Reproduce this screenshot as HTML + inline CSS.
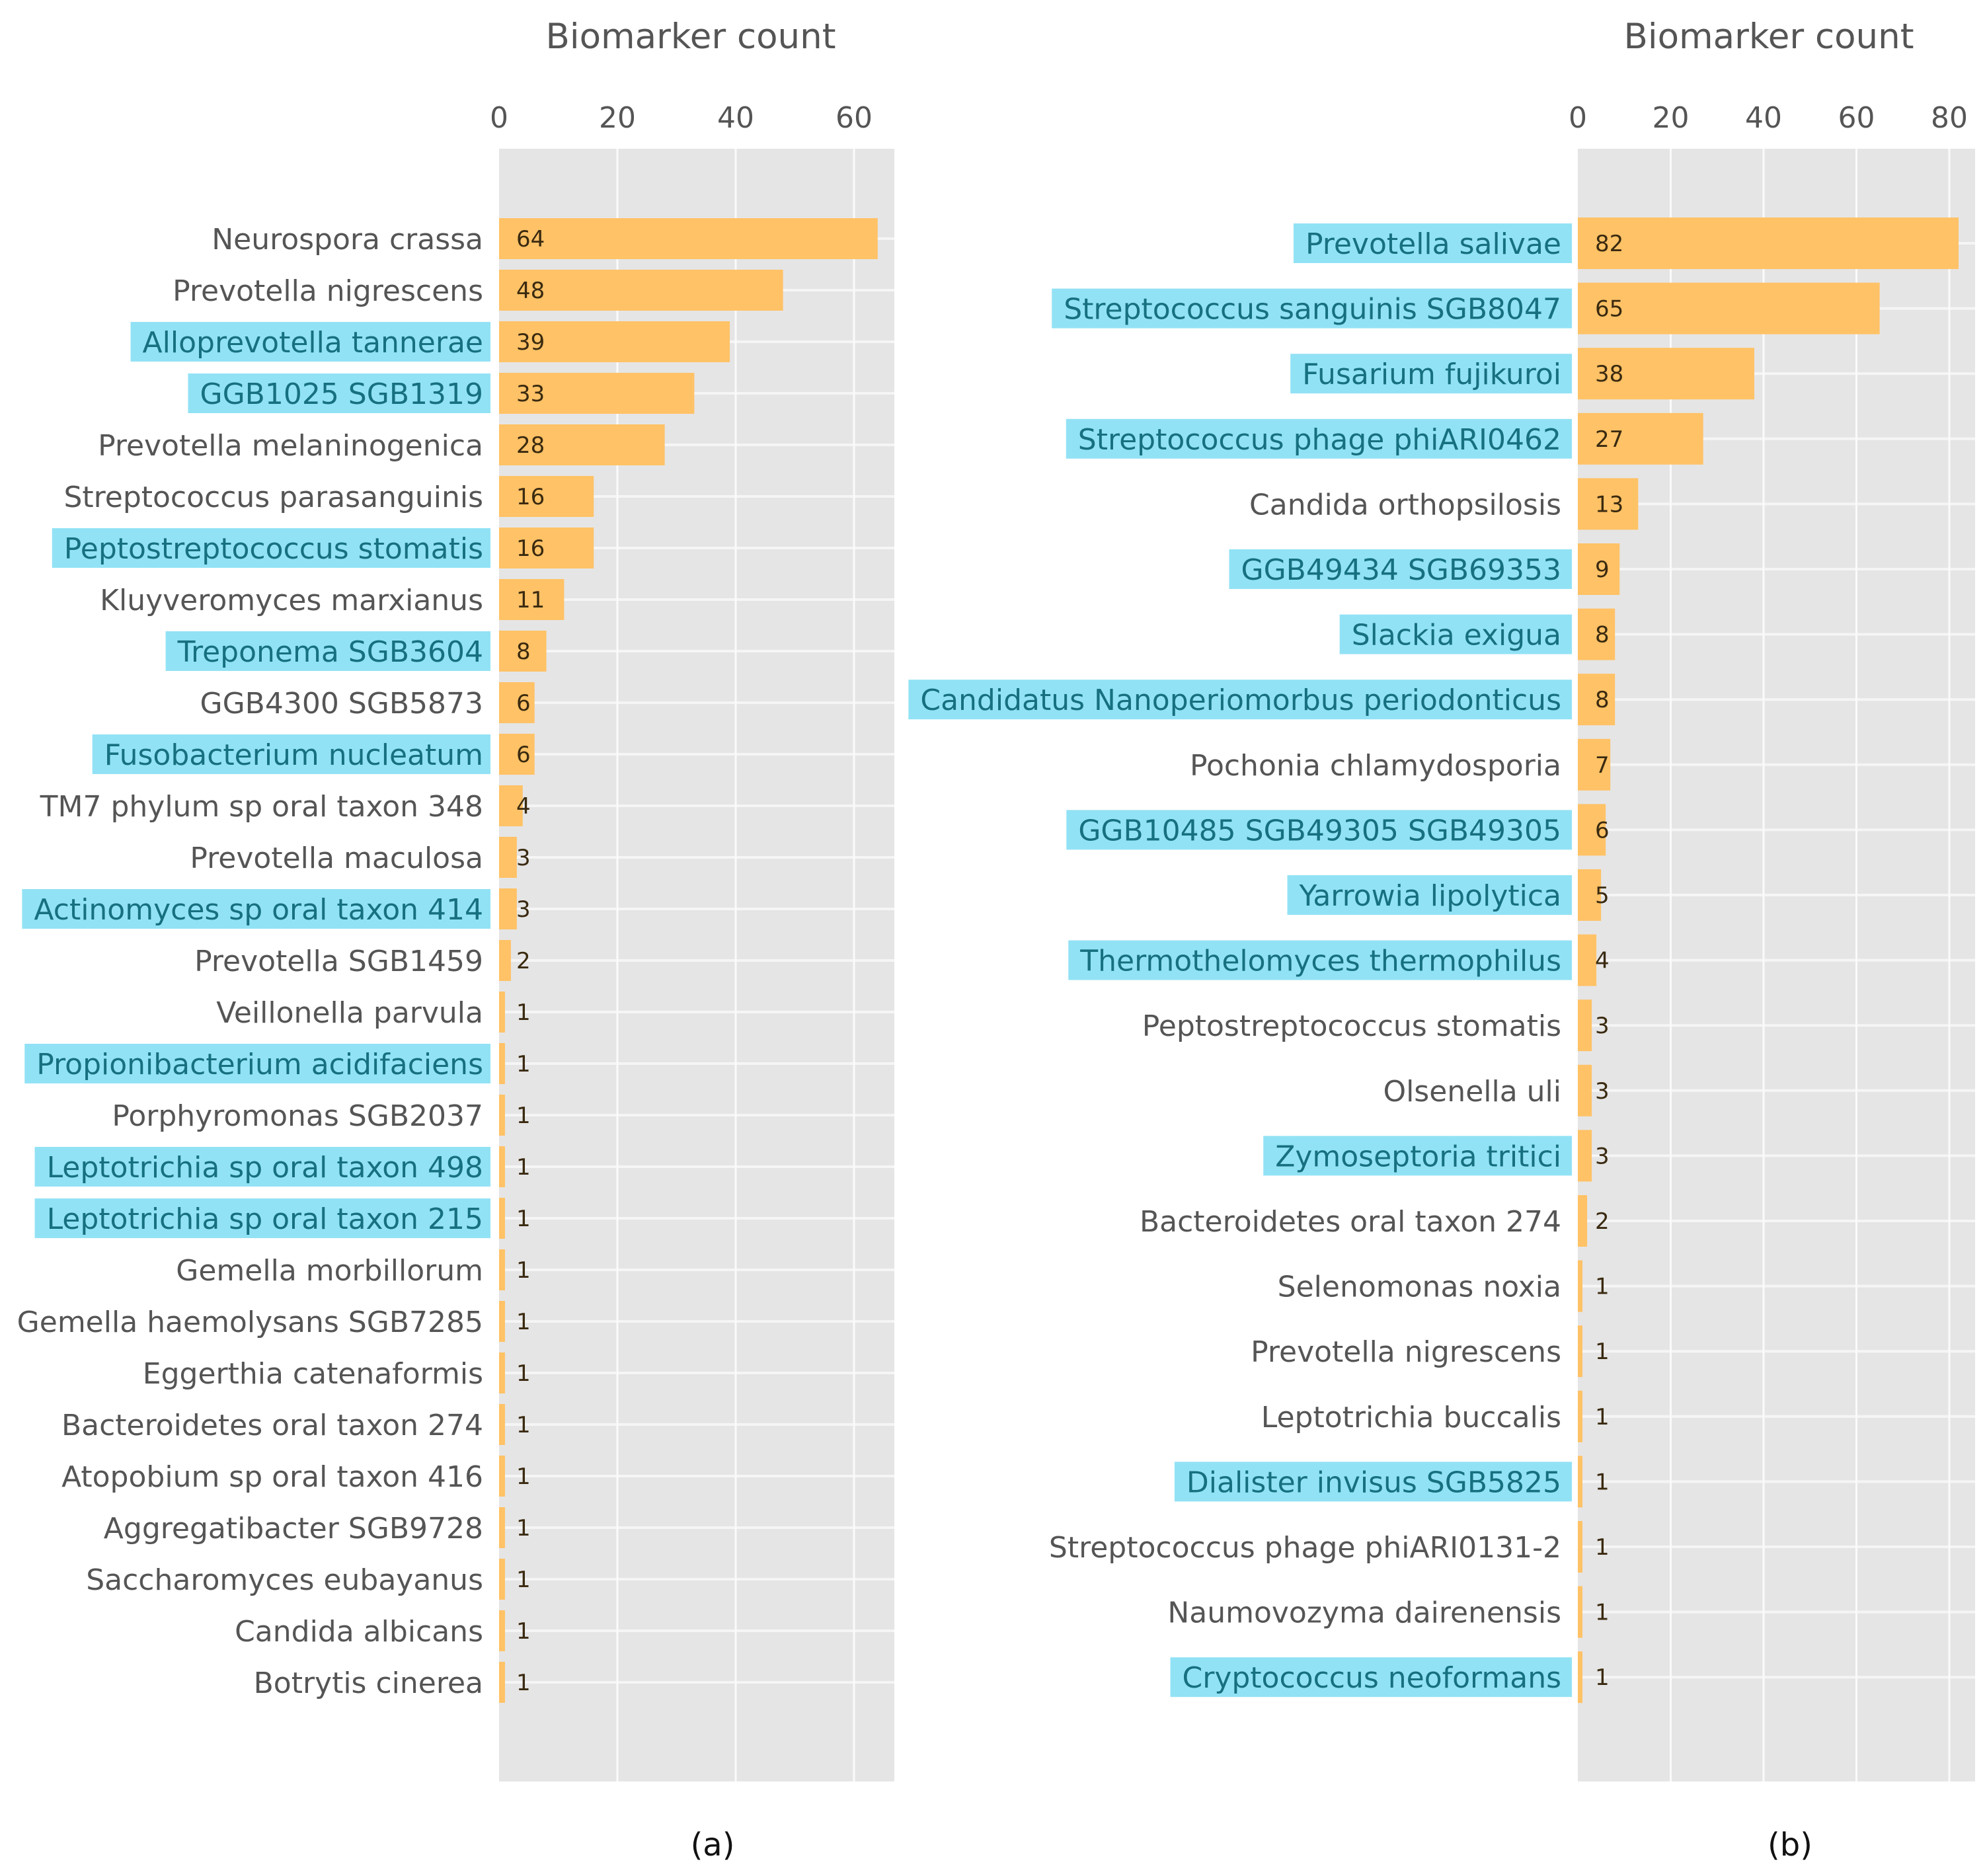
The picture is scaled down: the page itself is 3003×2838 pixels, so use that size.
<!DOCTYPE html>
<html><head><meta charset="utf-8"><style>
html,body{margin:0;padding:0;background:#fff;}
svg{display:block;}
text{font-family:"DejaVu Sans","Liberation Sans",sans-serif;}
</style></head><body>
<svg id="chart" width="3003" height="2838" viewBox="0 0 3003 2838" xmlns="http://www.w3.org/2000/svg"></svg>
<script>
const catsA = ["Neurospora crassa","Prevotella nigrescens","Alloprevotella tannerae","GGB1025 SGB1319","Prevotella melaninogenica","Streptococcus parasanguinis","Peptostreptococcus stomatis","Kluyveromyces marxianus","Treponema SGB3604","GGB4300 SGB5873","Fusobacterium nucleatum","TM7 phylum sp oral taxon 348","Prevotella maculosa","Actinomyces sp oral taxon 414","Prevotella SGB1459","Veillonella parvula","Propionibacterium acidifaciens","Porphyromonas SGB2037","Leptotrichia sp oral taxon 498","Leptotrichia sp oral taxon 215","Gemella morbillorum","Gemella haemolysans SGB7285","Eggerthia catenaformis","Bacteroidetes oral taxon 274","Atopobium sp oral taxon 416","Aggregatibacter SGB9728","Saccharomyces eubayanus","Candida albicans","Botrytis cinerea"];
const valsA = [64,48,39,33,28,16,16,11,8,6,6,4,3,3,2,1,1,1,1,1,1,1,1,1,1,1,1,1,1];
const hlA = [0,0,1,1,0,0,1,0,1,0,1,0,0,1,0,0,1,0,1,1,0,0,0,0,0,0,0,0,0];
const ticksA = [0,20,40,60];
const catsB = ["Prevotella salivae","Streptococcus sanguinis SGB8047","Fusarium fujikuroi","Streptococcus phage phiARI0462","Candida orthopsilosis","GGB49434 SGB69353","Slackia exigua","Candidatus Nanoperiomorbus periodonticus","Pochonia chlamydosporia","GGB10485 SGB49305 SGB49305","Yarrowia lipolytica","Thermothelomyces thermophilus","Peptostreptococcus stomatis","Olsenella uli","Zymoseptoria tritici","Bacteroidetes oral taxon 274","Selenomonas noxia","Prevotella nigrescens","Leptotrichia buccalis","Dialister invisus SGB5825","Streptococcus phage phiARI0131-2","Naumovozyma dairenensis","Cryptococcus neoformans"];
const valsB = [82,65,38,27,13,9,8,8,7,6,5,4,3,3,3,2,1,1,1,1,1,1,1];
const hlB = [1,1,1,1,0,1,1,1,0,1,1,1,0,0,1,0,0,0,0,1,0,0,1];
const ticksB = [0,20,40,60,80];

const svg = document.getElementById('chart');
const NS = "http://www.w3.org/2000/svg";
function mk(tag, attrs, parent){
  const e = document.createElementNS(NS, tag);
  for (const k in attrs) e.setAttribute(k, attrs[k]);
  (parent||svg).appendChild(e);
  return e;
}
function panel(cfg, cats, vals, hl, ticks, key){
  const g = mk('g', {});
  
  
  const xs = v => cfg.x0 + v * cfg.pxPerUnit;
  const ys = i => cfg.yFirst + i * cfg.step;
  const bg = mk('rect', {x: cfg.x0, y: cfg.top, width: cfg.right - cfg.x0, height: cfg.bottom - cfg.top, fill: '#e5e5e5'}, g);
  
  
  cats.forEach((c, i) => {
    const l = mk('line', {x1: cfg.x0, x2: cfg.right, y1: ys(i), y2: ys(i), stroke: '#f5f5f5', 'stroke-width': 4}, g);
    
    
  });
  ticks.forEach(t => {
    if (t > 0) {
      const l = mk('line', {x1: xs(t), x2: xs(t), y1: cfg.top, y2: cfg.bottom, stroke: '#fafafa', 'stroke-width': 3}, g);
      
      
    }
    const tl = mk('text', {x: xs(t), y: 193, 'text-anchor': 'middle', 'font-size': 44, fill: '#555'}, g);
    tl.textContent = t;
    
    
  });
  const title = mk('text', {x: cfg.titleX, y: 73, 'text-anchor': 'middle', 'font-size': 53, fill: '#555'}, g);
  title.textContent = 'Biomarker count';
  
  
  cats.forEach((c, i) => {
    const y = ys(i);
    const bar = mk('rect', {x: cfg.x0, y: y - cfg.barH/2, width: xs(vals[i]) - cfg.x0, height: cfg.barH, fill: '#ffc266'}, g);
    
    
    const vl = mk('text', {x: cfg.x0 + 26, y: y + 12, 'font-size': 34, fill: '#3a2a10'}, g);
    vl.textContent = vals[i];
    
    
    let box = null;
    if (hl[i]) {
      box = mk('rect', {y: y - 30, height: 60, fill: '#92e2f5'}, g);
      
      
    }
    const lab = mk('text', {x: cfg.labelRight, y: y + 16, 'text-anchor': 'end', 'font-size': 44, fill: hl[i] ? '#16707f' : '#555'}, g);
    lab.textContent = c;
    
    
    if (box) {
      const w = lab.getComputedTextLength();
      box.setAttribute('x', cfg.labelRight - w - 18);
      box.setAttribute('width', cfg.boxRight - (cfg.labelRight - w - 18));
    }
  });
  const cap = mk('text', {x: cfg.capX, y: 2807, 'text-anchor': 'middle', 'font-size': 48, fill: '#111'}, g);
  cap.textContent = key === 'a' ? '(a)' : '(b)';
  
  
}
panel({x0: 755, right: 1353, top: 225, bottom: 2695, pxPerUnit: 179/20, yFirst: 361, step: 78.0, barH: 62, labelRight: 731, boxRight: 742, titleX: 1045, capX: 1078}, catsA, valsA, hlA, ticksA, 'a');
panel({x0: 2387, right: 2988, top: 225, bottom: 2695, pxPerUnit: 140.5/20, yFirst: 368, step: 98.6, barH: 78, labelRight: 2362, boxRight: 2378, titleX: 2676, capX: 2708}, catsB, valsB, hlB, ticksB, 'b');
</script>
</body></html>
